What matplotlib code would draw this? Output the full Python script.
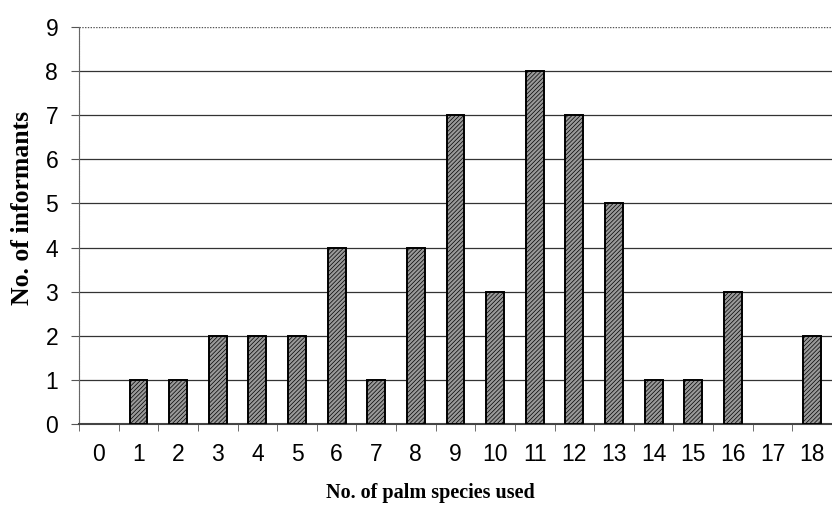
import matplotlib
matplotlib.use("Agg")
import matplotlib.pyplot as plt

species_used = list(range(0, 19))
informants = [0, 1, 1, 2, 2, 2, 4, 1, 4, 7, 3, 8, 7, 5, 1, 1, 3, 0, 2]
y_ticks = list(range(0, 10))

plt.rcParams['hatch.color'] = '#555555'
plt.rcParams['hatch.linewidth'] = 0.5

fig = plt.figure(figsize=(8.32, 5.13), dpi=100)
ax = fig.add_axes([79/832, 1-424/513, 1-79/832, (424-27)/513])

for y in y_ticks[1:9]:
    ax.axhline(y, color='#333333', lw=0.9, zorder=1)
ax.axhline(9, color='#555555', lw=1.0, ls=(0, (1, 1)), zorder=1)

vals_x = [x for x, v in zip(species_used, informants) if v > 0]
vals_y = [v for v in informants if v > 0]
ax.bar(vals_x, vals_y, width=0.45, facecolor='#999999', edgecolor='black',
       hatch='////////', lw=1.4, zorder=3)

ax.set_xlim(-0.5, 18.33)
ax.set_ylim(0, 9)
ax.set_yticks(y_ticks)
ax.set_xticks(species_used)
ax.set_xticks([i + 0.5 for i in range(-1, 19)], minor=True)
ax.tick_params(axis='x', which='major', length=0, pad=14)
ax.tick_params(axis='x', which='minor', length=5, color='#555555', direction='out')
ax.tick_params(axis='y', length=6, color='#555555', pad=9)
for lab in ax.get_xticklabels() + ax.get_yticklabels():
    lab.set_fontfamily('Liberation Sans')
    lab.set_fontsize(16.5)

for s in ['top', 'right']:
    ax.spines[s].set_visible(False)
ax.spines['left'].set_color('#666666')
ax.spines['left'].set_linestyle((0, (1, 0.5)))
ax.spines['bottom'].set_color('#444444')
ax.spines['bottom'].set_linewidth(1.5)

fig.text(430/832, 1-493/513, 'No. of palm species used', ha='center', va='center',
         fontfamily='Liberation Serif', fontweight='bold', fontsize=14.5)
fig.text(23/832, 1-208/513, 'No. of informants', ha='center', va='center', rotation=90,
         fontfamily='Liberation Serif', fontweight='bold', fontsize=18.5)

fig.savefig('out.png', dpi=100)
